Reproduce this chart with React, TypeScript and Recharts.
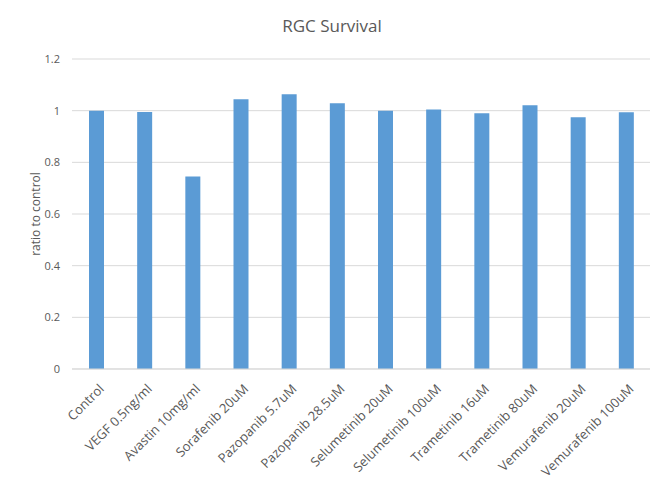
import { BarChart, Bar, XAxis, YAxis, CartesianGrid } from 'recharts';

const categories = [
  'Control',
  'VEGF 0.5ng/ml',
  'Avastin 10mg/ml',
  'Sorafenib 20uM',
  'Pazopanib 5.7uM',
  'Pazopanib 28.5uM',
  'Selumetinib 20uM',
  'Selumetinib 100uM',
  'Trametinib 16uM',
  'Trametinib 80uM',
  'Vemurafenib 20uM',
  'Vemurafenib 100uM',
];

const ratios = [1.0, 0.995, 0.745, 1.044, 1.064, 1.029, 1.0, 1.005, 0.99, 1.021, 0.975, 0.994];

const yTicks = [0, 0.2, 0.4, 0.6, 0.8, 1, 1.2];

const data = categories.map((name, i) => ({ name, value: ratios[i] }));

const textColor = '#595959';
const font = '"Open Sans", "Noto Sans", sans-serif';

const RotatedTick = (props: any) => {
  const { x, y, payload } = props;
  return (
    <g transform={`translate(${x + 3},${y + 7})`}>
      <text
        x={0}
        y={0}
        dy={8}
        textAnchor="end"
        transform="rotate(-45)"
        fill={textColor}
        fontSize={13}
        fontFamily={font}
      >
        {payload.value}
      </text>
    </g>
  );
};

const App = () => {
  return (
    <div style={{ position: 'absolute', left: 0, top: 0, width: 664, height: 488, background: '#fff' }}>
      <div
        style={{
          position: 'absolute',
          top: 14,
          left: 0,
          width: 664,
          textAlign: 'center',
          fontFamily: font,
          fontSize: 17,
          color: textColor,
        }}
      >
        RGC Survival
      </div>
      <BarChart
        width={664}
        height={488}
        data={data}
        margin={{ top: 59, right: 14, bottom: 0, left: 0 }}
        barCategoryGap={0}
      >
        <CartesianGrid vertical={false} stroke="#d9d9d9" />
        <XAxis
          dataKey="name"
          interval={0}
          height={119}
          tick={<RotatedTick />}
          tickLine={false}
          axisLine={{ stroke: '#d9d9d9' }}
        />
        <YAxis
          width={72}
          domain={[0, 1.2]}
          ticks={yTicks}
          tickLine={false}
          axisLine={false}
          tickMargin={6}
          tick={{ fill: textColor, fontSize: 11, fontFamily: font }}
          label={{
            value: 'ratio to control',
            angle: -90,
            position: 'insideLeft',
            offset: 36,
            style: { textAnchor: 'middle', fill: textColor, fontSize: 12, fontFamily: font },
          }}
        />
        <Bar dataKey="value" fill="#5B9BD5" barSize={15} isAnimationActive={false} />
      </BarChart>
    </div>
  );
};

export default App;
